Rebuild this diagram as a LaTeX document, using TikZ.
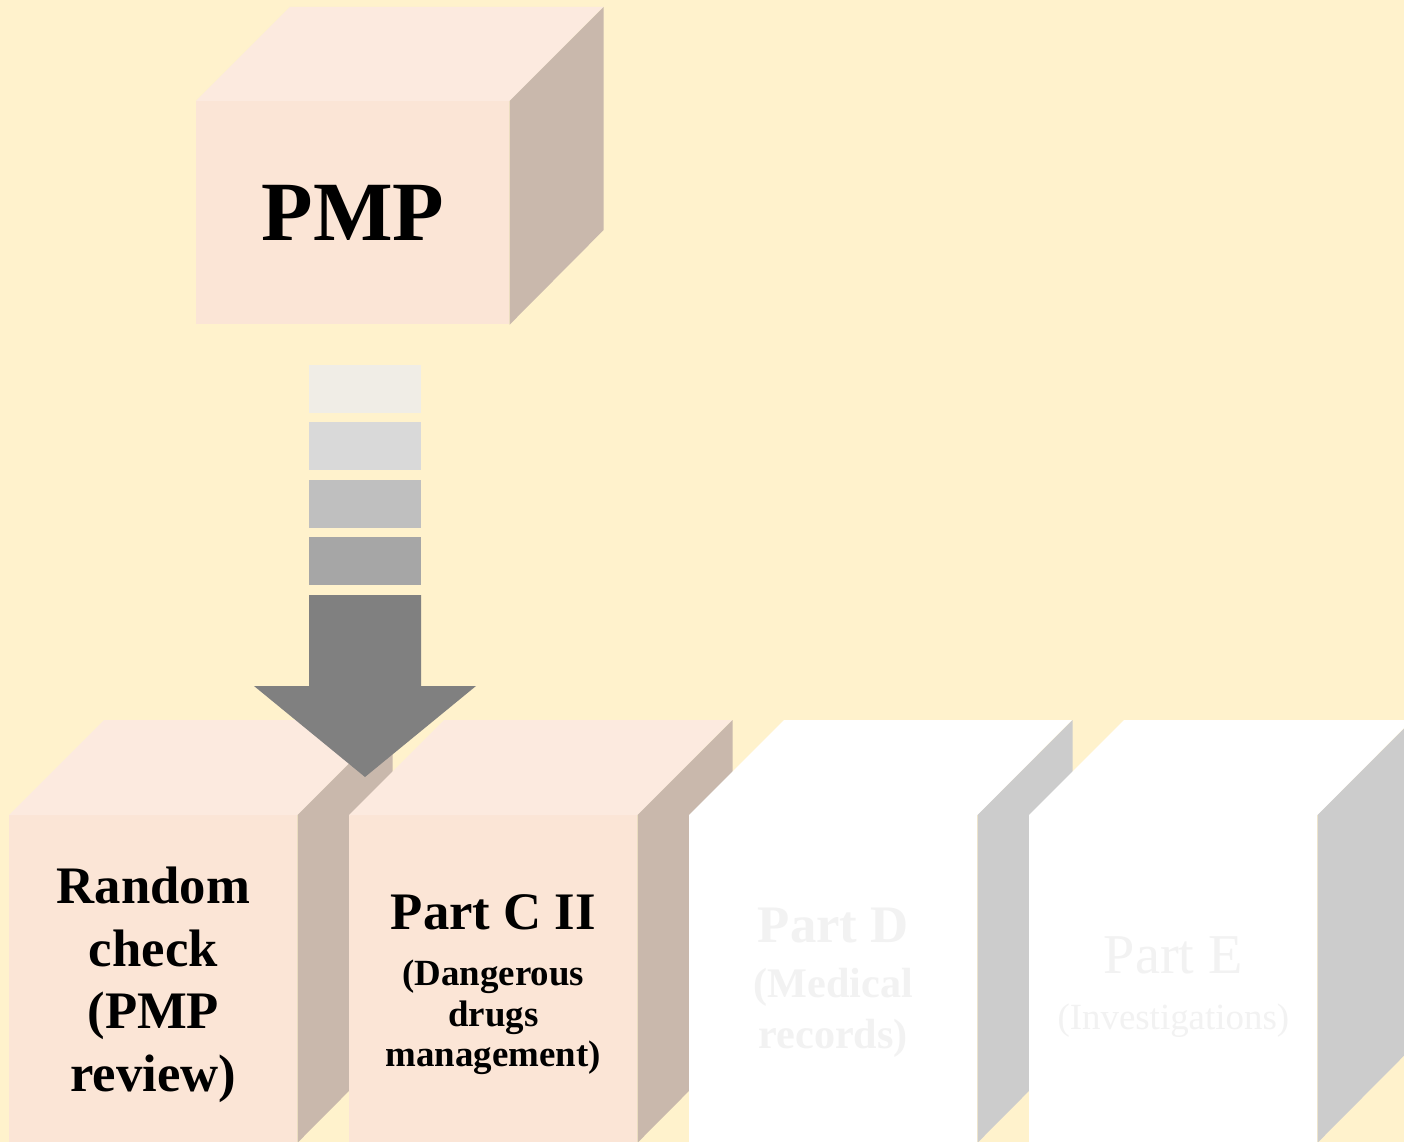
\documentclass[tikz,border=0pt]{standalone}
\usepackage{fontspec}
\setmainfont{Liberation Serif}
\usepackage{xcolor}
\usepackage{tikz}
\usetikzlibrary{calc}

\definecolor{bgyellow}{HTML}{FFF2CC}
\definecolor{facefront}{HTML}{FBE5D6}
\definecolor{facetop}{HTML}{FCEADF}
\definecolor{faceside}{HTML}{C9B8AC}
\definecolor{greyside}{HTML}{CCCCCC}
\definecolor{fadetext}{HTML}{F2F2F2}

\newcommand{\smallline}{\fontsize{21}{23.5}\selectfont}
\newcommand{\midline}{\fontsize{24}{30}\selectfont}

\begin{document}
\begin{tikzpicture}[x=0.02cm, y=-0.02cm]
                \tikzstyle{front} = [rectangle, inner sep=0pt, anchor=north west, minimum width=5.76cm, minimum height=6.54cm, fill=facefront]
                \tikzstyle{big}   = [front, minimum width=6.26cm, minimum height=4.46cm]
                \tikzstyle{blank} = [front, fill=white]
                \tikzstyle{words} = [align=center, inner sep=0pt]
                \tikzstyle{stripe} = [rectangle, inner sep=0pt, minimum width=2.24cm, minimum height=0.96cm]
                \fill[bgyellow] (0, 0) rectangle (1404, 1142);
                \useasboundingbox (0, 0) rectangle (1404, 1142);
                %%PMP
                \node [big, font=\fontsize{48}{56}\selectfont\bfseries](pmp) at (196, 101) {PMP};
                \fill [facetop] (pmp.north west) -- ++(94, -94) -- ++(313, 0) -- (pmp.north east) -- cycle;
                \fill [faceside] (pmp.north east) -- ++(94, -94) -- ++(0, 223) -- (pmp.south east) -- cycle;
                %%Random check
                \node [front](rnd) at (9, 815) {};
                \fill [facetop] (rnd.north west) -- ++(95, -95) -- ++(288, 0) -- (rnd.north east) -- cycle;
                \fill [faceside] (rnd.north east) -- ++(95, -95) -- ++(0, 327) -- (rnd.south east) -- cycle;
                \node [words, font=\fontsize{30}{35.7}\selectfont\bfseries](rndtext) at ($(rnd.center) + (0, 6)$) {Random\\check\\(PMP\\review)};
                %%Part C II
                \node [front](partc) at (349, 815) {};
                \fill [facetop] (partc.north west) -- ++(95, -95) -- ++(288, 0) -- (partc.north east) -- cycle;
                \fill [faceside] (partc.north east) -- ++(95, -95) -- ++(0, 327) -- (partc.south east) -- cycle;
                \node [words, font=\fontsize{30}{35}\selectfont\bfseries](partctext) at ($(partc.center) + (0, 6)$) {Part C II\\[-3pt]
                        \smallline (Dangerous\\[-12pt]\smallline drugs\\[-12pt]\smallline management)};
                %%Part D
                \node [blank](partd) at (689, 815) {};
                \fill [white] (partd.north west) -- ++(95, -95) -- ++(288, 0) -- (partd.north east) -- cycle;
                \fill [greyside] (partd.north east) -- ++(95, -95) -- ++(0, 327) -- (partd.south east) -- cycle;
                \node [words, text=fadetext, font=\fontsize{30}{34}\selectfont\bfseries](partdtext) at ($(partd.center) + (0, 4)$) {Part D\\[-3pt]
                        \midline (Medical\\[-5pt]\midline records)};
                %%Part E
                \node [blank](parte) at (1029, 815) {};
                \fill [white] (parte.north west) -- ++(95, -95) -- ++(288, 0) -- (parte.north east) -- cycle;
                \fill [greyside] (parte.north east) -- ++(95, -95) -- ++(0, 327) -- (parte.south east) -- cycle;
                \node [words, text=fadetext, font=\fontsize{32}{36}\selectfont](partetext) at ($(parte.center) + (0, 8)$) {Part E\\[-4pt]
                        \smallline (Investigations)};
                %%Arrow
                \node [stripe, fill={rgb,255:red,240;green,237;blue,230}](s1) at (365, 389) {};
                \node [stripe, fill={rgb,255:red,217;green,217;blue,217}](s2) at (365, 446) {};
                \node [stripe, fill={rgb,255:red,191;green,191;blue,191}](s3) at (365, 504) {};
                \node [stripe, fill={rgb,255:red,166;green,166;blue,166}](s4) at (365, 561) {};
                \coordinate (tip) at (365, 777);
                \fill [gray] (309, 595) -- (421, 595) -- (421, 686) -- (476, 686) -- (tip) -- (254, 686) -- (309, 686) -- cycle;
\end{tikzpicture}
\end{document}
